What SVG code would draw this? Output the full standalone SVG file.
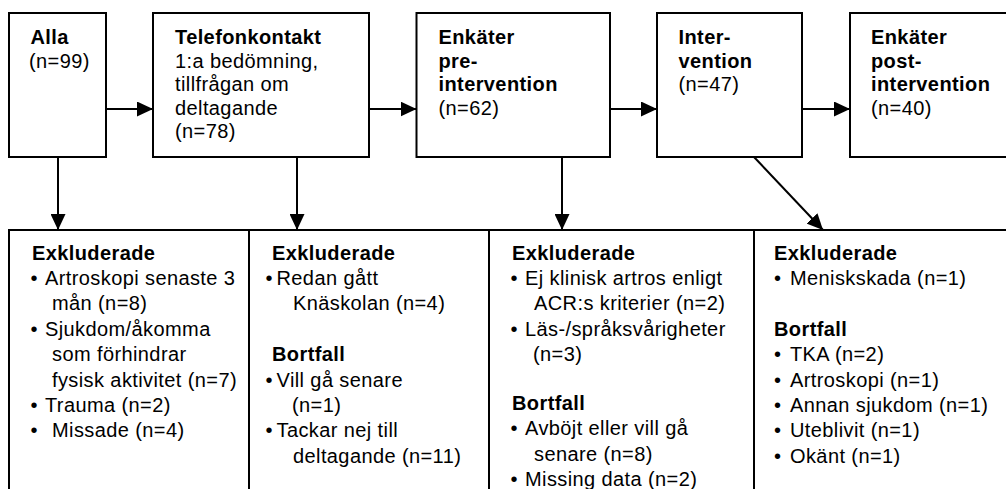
<svg xmlns="http://www.w3.org/2000/svg" width="1006" height="489" viewBox="0 0 1006 489">
<defs>
<style>
.box{fill:#fff;stroke:#000;stroke-width:2}
.t{font-family:"Liberation Sans",Arial,sans-serif;font-size:20px;letter-spacing:0.4px;fill:#000}
.b{font-weight:bold}
.c{fill:none;stroke:#000;stroke-width:2}
</style>
<marker id="ah" viewBox="0 0 16 15" refX="16" refY="7.5" markerWidth="16" markerHeight="15" markerUnits="userSpaceOnUse" orient="auto">
<path d="M0,0 L16,7.5 L0,15 z" fill="#000"/>
</marker>
</defs>
<rect width="1006" height="489" fill="#fff"/>
<g id="connectors">
<line class="c" x1="106" y1="109" x2="153" y2="109" marker-end="url(#ah)"/>
<line class="c" x1="369" y1="109" x2="416.5" y2="109" marker-end="url(#ah)"/>
<line class="c" x1="610" y1="109" x2="657" y2="109" marker-end="url(#ah)"/>
<line class="c" x1="802" y1="109" x2="850" y2="109" marker-end="url(#ah)"/>
<line class="c" x1="58" y1="157" x2="58" y2="230" marker-end="url(#ah)"/>
<line class="c" x1="297" y1="157" x2="297" y2="230" marker-end="url(#ah)"/>
<line class="c" x1="562" y1="157" x2="562" y2="230" marker-end="url(#ah)"/>
<line class="c" x1="754" y1="157" x2="823" y2="230" marker-end="url(#ah)"/>
</g>
<g id="alla">
<rect class="box" x="9" y="13" width="97" height="144"/>
<text class="t b" x="30.5" y="44">Alla</text>
<text class="t" x="29" y="67.5">(n=99)</text>
</g>
<g id="telefonkontakt">
<rect class="box" x="153" y="13" width="216" height="144"/>
<text class="t b" x="175" y="44">Telefonkontakt</text>
<text class="t" x="175" y="67.5">1:a bedömning,</text>
<text class="t" x="175" y="91">tillfrågan om</text>
<text class="t" x="175" y="114.5">deltagande</text>
<text class="t" x="175" y="138">(n=78)</text>
</g>
<g id="enkater-pre">
<rect class="box" x="416.5" y="13" width="193.5" height="144"/>
<text class="t b" x="438.5" y="44">Enkäter</text>
<text class="t b" x="438.5" y="67.5">pre-</text>
<text class="t b" x="438.5" y="91">intervention</text>
<text class="t" x="438.5" y="114.5">(n=62)</text>
</g>
<g id="intervention">
<rect class="box" x="657" y="13" width="145" height="144"/>
<text class="t b" x="678.5" y="44">Inter-</text>
<text class="t b" x="678.5" y="67.5">vention</text>
<text class="t" x="678.5" y="91">(n=47)</text>
</g>
<g id="enkater-post">
<rect class="box" x="850" y="13" width="180" height="144"/>
<text class="t b" x="871" y="44">Enkäter</text>
<text class="t b" x="871" y="67.5">post-</text>
<text class="t b" x="871" y="91">intervention</text>
<text class="t" x="871" y="114.5">(n=40)</text>
</g>
<g id="exkl-alla">
<rect class="box" x="9" y="230" width="240" height="270"/>
<text class="t b" x="32" y="259.5">Exkluderade</text>
<text class="t" x="30.5" y="284.9">•</text><text class="t" x="45" y="284.9">Artroskopi senaste 3</text>
<text class="t" x="52" y="310.3">mån (n=8)</text>
<text class="t" x="30.5" y="335.7">•</text><text class="t" x="45" y="335.7">Sjukdom/åkomma</text>
<text class="t" x="52" y="361.1">som förhindrar</text>
<text class="t" x="52" y="386.5">fysisk aktivitet (n=7)</text>
<text class="t" x="30.5" y="411.9">•</text><text class="t" x="45" y="411.9">Trauma (n=2)</text>
<text class="t" x="30.5" y="437.3">•</text><text class="t" x="52" y="437.3">Missade (n=4)</text>
</g>
<g id="exkl-telefon">
<rect class="box" x="249" y="230" width="240" height="270"/>
<text class="t b" x="272" y="259.5">Exkluderade</text>
<text class="t" x="265.5" y="284.9">•</text><text class="t" x="276.5" y="284.9">Redan gått</text>
<text class="t" x="293" y="310.3">Knäskolan (n=4)</text>
<text class="t b" x="272" y="361.1">Bortfall</text>
<text class="t" x="265.5" y="386.5">•</text><text class="t" x="276.5" y="386.5">Vill gå senare</text>
<text class="t" x="292" y="411.9">(n=1)</text>
<text class="t" x="265.5" y="437.3">•</text><text class="t" x="276.5" y="437.3">Tackar nej till</text>
<text class="t" x="293" y="462.7">deltagande (n=11)</text>
</g>
<g id="exkl-pre">
<rect class="box" x="489" y="230" width="265" height="270"/>
<text class="t b" x="512" y="259.5">Exkluderade</text>
<text class="t" x="510.5" y="284.9">•</text><text class="t" x="525" y="284.9">Ej klinisk artros enligt</text>
<text class="t" x="534" y="310.3">ACR:s kriterier (n=2)</text>
<text class="t" x="510.5" y="335.7">•</text><text class="t" x="525" y="335.7">Läs-/språksvårigheter</text>
<text class="t" x="533" y="361.1">(n=3)</text>
<text class="t b" x="512" y="410">Bortfall</text>
<text class="t" x="510.5" y="435.4">•</text><text class="t" x="525" y="435.4">Avböjt eller vill gå</text>
<text class="t" x="534" y="460.8">senare (n=8)</text>
<text class="t" x="510.5" y="486.2">•</text><text class="t" x="525" y="486.2">Missing data (n=2)</text>
</g>
<g id="exkl-intervention">
<rect class="box" x="754" y="230" width="270" height="270"/>
<text class="t b" x="774" y="259.5">Exkluderade</text>
<text class="t" x="774" y="284.9">•</text><text class="t" x="790" y="284.9">Meniskskada (n=1)</text>
<text class="t b" x="774" y="335.7">Bortfall</text>
<text class="t" x="774" y="361.1">•</text><text class="t" x="790" y="361.1">TKA (n=2)</text>
<text class="t" x="774" y="386.5">•</text><text class="t" x="790" y="386.5">Artroskopi (n=1)</text>
<text class="t" x="774" y="411.9">•</text><text class="t" x="790" y="411.9">Annan sjukdom (n=1)</text>
<text class="t" x="774" y="437.3">•</text><text class="t" x="790" y="437.3">Uteblivit (n=1)</text>
<text class="t" x="774" y="462.7">•</text><text class="t" x="790" y="462.7">Okänt (n=1)</text>
</g>
</svg>
